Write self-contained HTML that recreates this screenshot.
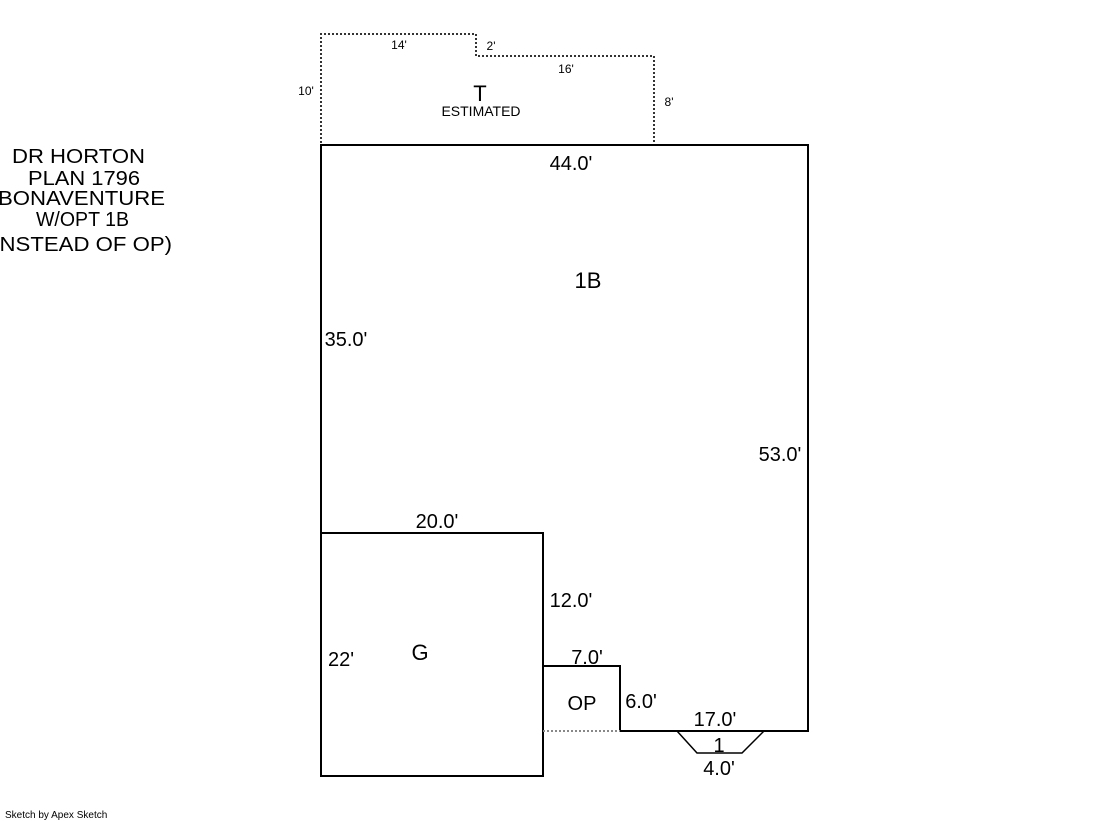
<html><body style="margin:0;width:1119px;height:821px;background:#fff;overflow:hidden">
<svg width="1119" height="821" xmlns="http://www.w3.org/2000/svg" font-family="Liberation Sans, sans-serif">
<g fill="none" stroke="#000" stroke-width="2">
<path d="M321,145 H808 V731 H620 V666 H543 V533 H321 Z"/>
<rect x="321" y="533" width="222" height="243"/>
<path d="M677,731 L697,753 H742 L764,731" stroke-width="1.5"/>
</g>
<path d="M321,143 V34 H476 V56 H654 V143" fill="none" stroke="#333" stroke-width="2" stroke-dasharray="2,2"/>
<path d="M543,731 H620" stroke="#888" stroke-width="2" stroke-dasharray="2,2"/>
<g font-size="20" fill="#000">
<text x="12" y="163" textLength="133" lengthAdjust="spacingAndGlyphs">DR HORTON</text>
<text x="28" y="185" textLength="112" lengthAdjust="spacingAndGlyphs">PLAN 1796</text>
<text x="-2" y="205" textLength="167" lengthAdjust="spacingAndGlyphs">BONAVENTURE</text>
<text x="36" y="226" textLength="93" lengthAdjust="spacingAndGlyphs">W/OPT 1B</text>
<text x="-14" y="251" textLength="186" lengthAdjust="spacingAndGlyphs">(INSTEAD OF OP)</text>
</g>
<g font-size="20" fill="#000" text-anchor="middle">
<text x="571" y="170">44.0'</text>
<text x="588" y="288" font-size="22">1B</text>
<text x="346" y="346">35.0'</text>
<text x="780" y="461">53.0'</text>
<text x="437" y="528">20.0'</text>
<text x="571" y="607">12.0'</text>
<text x="420" y="660" font-size="22">G</text>
<text x="341" y="666">22'</text>
<text x="587" y="664">7.0'</text>
<text x="582" y="710">OP</text>
<text x="641" y="708">6.0'</text>
<text x="715" y="726">17.0'</text>
<text x="719" y="752">1</text>
<text x="719" y="775">4.0'</text>
<text x="480" y="101" font-size="22">T</text>
</g>
<g font-size="12" fill="#000" text-anchor="middle">
<text x="399" y="49">14'</text>
<text x="491" y="50">2'</text>
<text x="566" y="73">16'</text>
<text x="306" y="95">10'</text>
<text x="669" y="106">8'</text>
<text x="481" y="116" font-size="14">ESTIMATED</text>
</g>
<text x="5" y="818" font-size="10" fill="#000">Sketch by Apex Sketch</text>
</svg>
</body></html>
